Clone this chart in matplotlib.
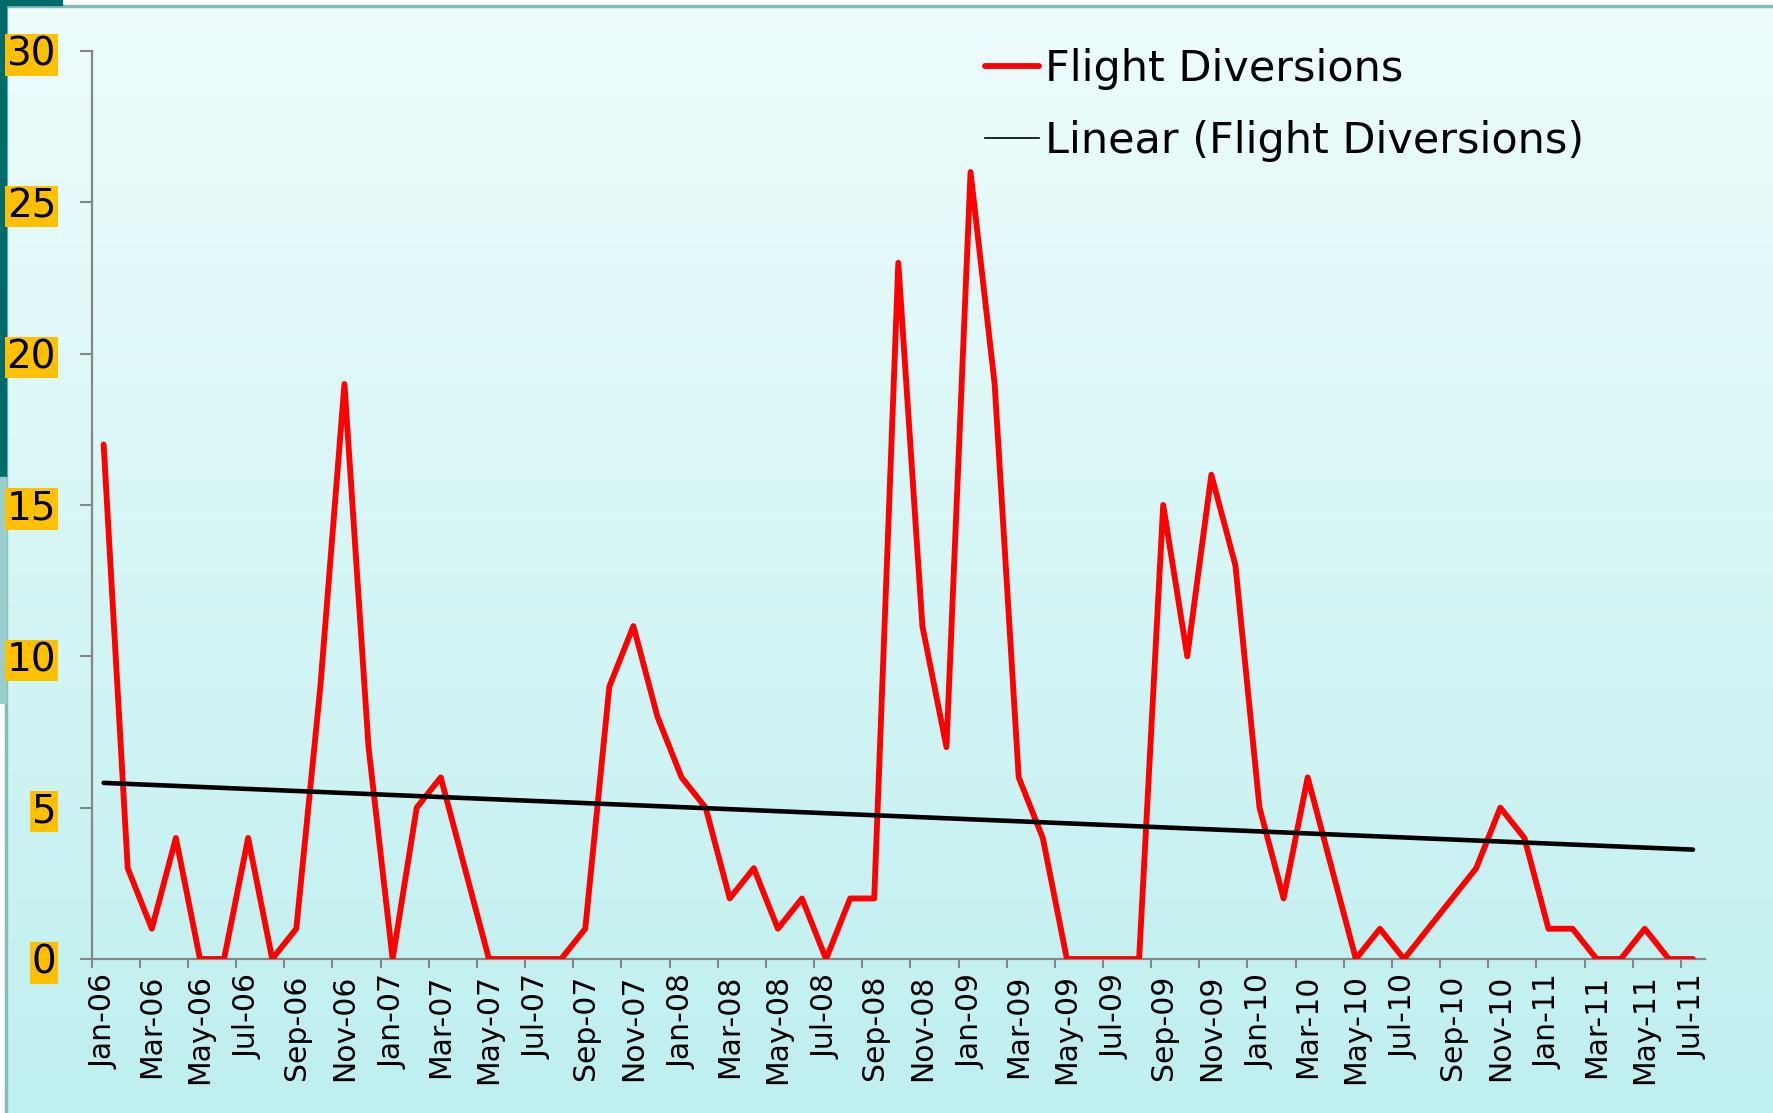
import numpy as np
import pandas as pd
import matplotlib
matplotlib.use("Agg")
import matplotlib.pyplot as plt
from matplotlib.lines import Line2D
from matplotlib.patches import Rectangle
from matplotlib.colors import LinearSegmentedColormap

# ---------------- data ----------------
months = list(pd.date_range("2006-01-01", periods=67, freq="MS").strftime("%b-%y"))
diversions = [17, 3, 1, 4, 0, 0, 4, 0, 1, 9, 19, 7,
              0, 5, 6, 3, 0, 0, 0, 0, 1, 9, 11, 8,
              6, 5, 2, 3, 1, 2, 0, 2, 2, 23, 11, 7,
              26, 19, 6, 4, 0, 0, 0, 0, 15, 10, 16, 13,
              5, 2, 6, 3, 0, 1, 0, 1, 2, 3, 5, 4,
              1, 1, 0, 0, 1, 0, 0]
y_ticks = [0, 5, 10, 15, 20, 25, 30]
series_name = "Flight Diversions"
trend_name = "Linear (Flight Diversions)"

W, H, DPI = 1773, 1113, 100
fig = plt.figure(figsize=(W / DPI, H / DPI), dpi=DPI)
fig.patch.set_facecolor("white")

# ---------------- slide-like background ----------------
bg = fig.add_axes([0, 0, 1, 1], zorder=-10)
bg.set_xlim(0, W)
bg.set_ylim(H, 0)
bg.axis("off")
grad = np.linspace(0, 1, 256).reshape(-1, 1)
cmap = LinearSegmentedColormap.from_list("bgc", ["#EEFCFC", "#BFEFEF"])
bg.imshow(grad, cmap=cmap, aspect="auto", extent=[7, W, H, 7], zorder=0)
bg.add_patch(Rectangle((0, 5), W, 2.2, color="#86BABA", zorder=2))
bg.add_patch(Rectangle((5, 0), 2.2, H, color="#86BABA", zorder=2))
bg.add_patch(Rectangle((0, 0), 5.5, 477, color="#006B6B", zorder=3))
bg.add_patch(Rectangle((0, 477), 5.5, 226, color="#99CCCC", zorder=3))
bg.add_patch(Rectangle((0, 0), 62, 5, color="#006B6B", zorder=3))

# ---------------- main chart ----------------
left, right = 91.6 / W, 1705 / W
bottom, top = 1 - 959 / H, 1 - 51 / H
ax = fig.add_axes([left, bottom, right - left, top - bottom])
ax.set_facecolor("none")

x = np.arange(len(months))
y = np.array(diversions, dtype=float)
ax.plot(x, y, color="#FF0000", lw=4.2, solid_joinstyle="round",
        solid_capstyle="round", zorder=3)
coef = np.polyfit(x, y, 1)
ax.plot(x, np.polyval(coef, x), color="black", lw=3.3,
        solid_capstyle="round", zorder=4)

ax.set_xlim(-0.5, len(months) - 0.5)
ax.set_ylim(0, 30)

for s in ["top", "right"]:
    ax.spines[s].set_visible(False)
for s in ["left", "bottom"]:
    ax.spines[s].set_color("#868686")
    ax.spines[s].set_linewidth(1.6)

# y axis
ax.set_yticks(y_ticks)
ax.tick_params(axis="y", direction="out", length=8.6, width=1.5,
               color="#868686", labelsize=28, pad=17)
for lbl in ax.get_yticklabels():
    lbl.set_bbox(dict(facecolor="#FFC000", edgecolor="none", pad=1.2))

# x axis: ticks at category boundaries every 2, labels at categories
ax.set_xticks(np.arange(-0.5, len(months) - 1, 2))
ax.set_xticklabels([])
ax.set_xticks(x[::2], minor=True)
ax.set_xticklabels(months[::2], minor=True, rotation=90)
ax.tick_params(axis="x", which="major", direction="out", length=6.5,
               width=1.5, color="#868686")
ax.tick_params(axis="x", which="minor", length=0, labelsize=21.5, pad=11)

handles = [Line2D([], [], color="#FF0000", lw=4.2, solid_capstyle="round"),
           Line2D([], [], color="black", lw=1.2)]
leg = fig.legend(handles, [series_name, trend_name], loc="upper left",
                 bbox_to_anchor=(985 / W, 1 - 48 / H), frameon=False,
                 fontsize=31, handlelength=1.25, handletextpad=0.15,
                 labelspacing=0.7, borderpad=0, borderaxespad=0)

fig.savefig("out.png", dpi=DPI)
